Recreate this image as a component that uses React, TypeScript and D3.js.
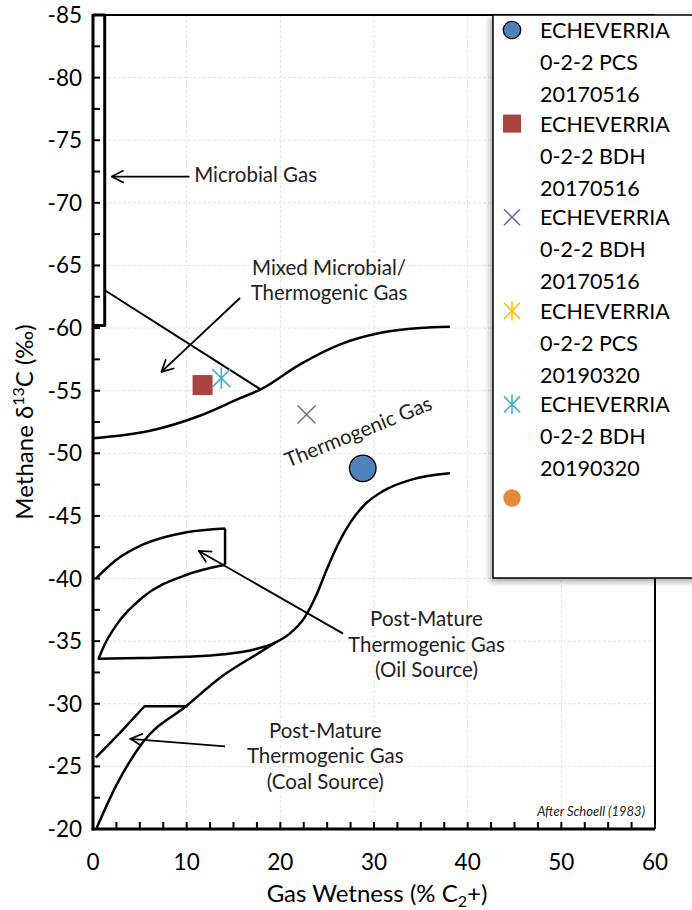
import React from 'react';
import * as d3 from 'd3';

// Schoell (1983) gas genesis diagram, Echeverria samples
const W = 692, H = 910;
const M = { l: 93, r: 655, t: 15, b: 829 };

type P = [number, number];

// boundary lines (x = gas wetness %, y = methane d13C)
const mixedLine: P[] = [[1.3, -63.0], [17.9, -55.1]];
const thermoUpper: P[] = [[0, -51.2], [6.1, -51.8], [11.4, -53.0], [15.7, -54.4], [17.9, -55.1], [22.1, -57.1], [26.4, -58.7], [30.6, -59.6], [34.9, -60.0], [38.1, -60.1]];
const thermoLower: P[] = [[0.5, -33.6], [5, -33.65], [10, -33.75], [14, -33.95], [17, -34.3], [19.5, -34.9], [21, -35.6], [22.6, -36.9], [23.8, -38.6], [25, -40.8], [26.2, -42.8], [27.5, -44.5], [29, -45.9], [31, -47.0], [34, -47.9], [38.1, -48.4]];
const coalLower: P[] = [[0.4, -20.1], [2.5, -23.5], [5.3, -26.9], [10.1, -29.9], [13.6, -32.1], [17.8, -34.1], [19.5, -34.9]];
const oilUpper: P[] = [[0.3, -40.0], [2.5, -41.5], [5.3, -42.7], [10, -43.7], [14.1, -44.0]];
const oilEdge: P[] = [[14.1, -44.0], [14.1, -41.1]];
const oilLower: P[] = [[0.6, -33.6], [1.1, -34.5], [2.6, -36.4], [5.3, -38.5], [10, -40.3], [14.1, -41.1]];
const coalUpper: P[] = [[0.3, -25.7], [2.9, -27.7], [5.5, -29.8], [10.1, -29.8]];
const microbialBox: P[] = [[0, -85], [1.25, -85], [1.25, -60.2], [0, -60.2]];

// sample points
const samples = [
  { name: ['ECHEVERRIA', '0-2-2 PCS', '20170516'], x: 28.8, y: -48.8, shape: 'circle', color: '#4f81bd' },
  { name: ['ECHEVERRIA', '0-2-2 BDH', '20170516'], x: 11.7, y: -55.45, shape: 'square', color: '#a9443f' },
  { name: ['ECHEVERRIA', '0-2-2 BDH', '20170516'], x: 22.8, y: -53.1, shape: 'x', color: '#8064a2' },
  { name: ['ECHEVERRIA', '0-2-2 PCS', '20190320'], x: null, y: null, shape: 'star', color: '#ffc000' },
  { name: ['ECHEVERRIA', '0-2-2 BDH', '20190320'], x: 13.7, y: -56.0, shape: 'star', color: '#4bacc6' },
  { name: [], x: null, y: null, shape: 'circle', color: '#e58a3c' },
];

const xTicks = [0, 10, 20, 30, 40, 50, 60];
const yTicks = [-85, -80, -75, -70, -65, -60, -55, -50, -45, -40, -35, -30, -25, -20];

// annotations: text lines, first baseline (data), arrow tail/head (data)
const notes = [
  { lines: ['Microbial Gas'], at: [10.8, -71.65], anchor: 'start', tail: [10.3, -72.1], head: [2.0, -72.1] },
  { lines: ['Mixed Microbial/', 'Thermogenic Gas'], at: [25.2, -64.25], anchor: 'middle', tail: [15.7, -62.4], head: [7.3, -56.5] },
  { lines: ['Post-Mature', 'Thermogenic Gas', '(Oil Source)'], at: [35.6, -36.2], anchor: 'middle', tail: [26.7, -35.6], head: [11.3, -42.2] },
  { lines: ['Post-Mature', 'Thermogenic Gas', '(Coal Source)'], at: [24.8, -27.3], anchor: 'middle', tail: [14.1, -26.6], head: [4.0, -27.2] },
];

const FONT = 'Lato, "Open Sans", sans-serif';

function Marker({ shape, color, cx, cy, s }: { shape: string; color: string; cx: number; cy: number; s: number }) {
  if (shape === 'circle') return <circle cx={cx} cy={cy} r={s} fill={color} stroke={color === '#4f81bd' ? '#000' : 'none'} strokeWidth={1.3} />;
  if (shape === 'square') return <rect x={cx - s} y={cy - s} width={2 * s} height={2 * s} fill={color} />;
  if (shape === 'x') {
    return <g stroke={color} strokeWidth={1.6}><line x1={cx - s} y1={cy - s} x2={cx + s} y2={cy + s} /><line x1={cx - s} y1={cy + s} x2={cx + s} y2={cy - s} /></g>;
  }
  return (
    <g stroke={color} strokeWidth={1.6}>
      <line x1={cx - s} y1={cy - s} x2={cx + s} y2={cy + s} />
      <line x1={cx - s} y1={cy + s} x2={cx + s} y2={cy - s} />
      <line x1={cx} y1={cy - s * 1.2} x2={cx} y2={cy + s * 1.2} />
    </g>
  );
}

export default function App() {
  const x = d3.scaleLinear().domain([0, 60]).range([M.l, M.r]);
  const y = d3.scaleLinear().domain([-85, -20]).range([M.t, M.b]);
  const smooth = d3.line<P>().x(d => x(d[0])).y(d => y(d[1])).curve(d3.curveMonotoneX);
  const straight = d3.line<P>().x(d => x(d[0])).y(d => y(d[1]));

  const minorX = d3.range(0, 60.01, 2.5);
  const minorY = d3.range(-85, -19.99, 2.5);

  return (
    <svg width={W} height={H} style={{ position: 'absolute', left: 0, top: 0, background: '#fff' }} fontFamily={FONT}>
      <defs>
        <marker id="ah" viewBox="0 0 14 14" refX="13" refY="7" markerWidth="14" markerHeight="14" markerUnits="userSpaceOnUse" orient="auto">
          <path d="M1,0.8 L13,7 L1,13.2" fill="none" stroke="#000" strokeWidth={1.7} />
        </marker>
        <filter id="sh" x="-20%" y="-10%" width="140%" height="120%">
          <feDropShadow dx="-2" dy="3" stdDeviation="3" floodColor="#000" floodOpacity="0.35" />
        </filter>
      </defs>

      {/* grid */}
      <g stroke="#e4e4e4" strokeWidth={1} strokeDasharray="3,2">
        {xTicks.slice(1, -1).map(t => <line key={t} x1={x(t)} x2={x(t)} y1={M.t} y2={M.b} />)}
        {yTicks.slice(1, -1).map(t => <line key={t} x1={M.l} x2={M.r} y1={y(t)} y2={y(t)} />)}
      </g>

      {/* frame */}
      <line x1={M.l} x2={M.r} y1={M.t} y2={M.t} stroke="#000" strokeWidth={2.2} />
      <line x1={M.r} x2={M.r} y1={M.t} y2={M.b} stroke="#000" strokeWidth={2} />

      {/* ticks */}
      <g stroke="#000" strokeWidth={2}>
        {minorX.map(t => <line key={'x' + t} x1={x(t)} x2={x(t)} y1={M.b} y2={M.b - 7} />)}
        {minorY.map(t => <line key={'y' + t} x1={M.l} x2={M.l + 7} y1={y(t)} y2={y(t)} />)}
      </g>
      <line x1={M.l} x2={M.l} y1={M.t - 1} y2={M.b + 1.5} stroke="#000" strokeWidth={3} />
      <line x1={M.l - 1.5} x2={M.r} y1={M.b} y2={M.b} stroke="#000" strokeWidth={3} />

      {/* tick labels */}
      <g fontSize={22.5} fill="#000">
        {yTicks.map(t => <text key={t} x={M.l - 11} y={y(t) + 8} textAnchor="end">{t}</text>)}
        {xTicks.map(t => <text key={t} x={x(t)} y={M.b + 41} textAnchor="middle">{t}</text>)}
      </g>

      {/* boundaries */}
      <g fill="none" stroke="#000" strokeWidth={2.5} strokeLinejoin="round">
        <path d={straight(microbialBox) ?? ''} strokeWidth={3} />
        <path d={straight(mixedLine) ?? ''} strokeWidth={2} />
        <path d={smooth(thermoUpper) ?? ''} />
        <path d={smooth(thermoLower) ?? ''} />
        <path d={smooth(coalLower) ?? ''} />
        <path d={smooth(oilUpper) ?? ''} />
        <path d={straight(oilEdge) ?? ''} />
        <path d={smooth(oilLower) ?? ''} />
        <path d={straight(coalUpper) ?? ''} />
      </g>

      {/* annotations */}
      <g fill="#222" fontSize={20.5}>
        {notes.map((n, i) => (
          <g key={i}>
            <line x1={x(n.tail[0])} y1={y(n.tail[1])} x2={x(n.head[0])} y2={y(n.head[1])} stroke="#000" strokeWidth={1.8} markerEnd="url(#ah)" />
            {n.lines.map((l, j) => (
              <text key={j} x={x(n.at[0])} y={y(n.at[1]) + j * 25.5} textAnchor={n.anchor as any}>{l}</text>
            ))}
          </g>
        ))}
        <text transform={`translate(${x(28.6)},${y(-51.2)}) rotate(-22)`} textAnchor="middle">Thermogenic Gas</text>
        <text x={M.r - 10} y={M.b - 13} fontSize={13} fontStyle="italic" textAnchor="end">After Schoell (1983)</text>
      </g>

      {/* samples */}
      {samples.map((s, i) => s.x == null ? null : (
        <Marker key={i} shape={s.shape} color={s.color} cx={x(s.x)} cy={y(s.y as number)} s={s.shape === 'circle' ? 13.3 : s.shape === 'square' ? 10 : 9} />
      ))}

      {/* legend */}
      <rect x={493} y={15} width={230} height={563} fill="#fff" stroke="#000" strokeWidth={1.5} filter="url(#sh)" />
      <g fontSize={21.5} fill="#000">
        {samples.map((s, i) => {
          const cy = 30 + i * 93.6;
          return (
            <g key={i}>
              <Marker shape={s.shape} color={s.color} cx={512} cy={cy} s={s.shape === 'circle' ? 8.7 : s.shape === 'square' ? 9 : 8} />
              {s.name.map((l, j) => <text key={j} x={540} y={cy + 8 + j * 32}>{l}</text>)}
            </g>
          );
        })}
      </g>

      {/* axis titles */}
      <text x={(M.l + M.r) / 2 + 3} y={902} textAnchor="middle" fontSize={24}>
        Gas Wetness (% C<tspan fontSize={16} dy={5}>2</tspan><tspan dy={-5}>+)</tspan>
      </text>
      <text transform={`translate(33,${(M.t + M.b) / 2}) rotate(-90)`} textAnchor="middle" fontSize={24}>
        Methane  δ<tspan fontSize={16} dy={-9}>13</tspan><tspan dy={9}>C (‰)</tspan>
      </text>
    </svg>
  );
}
